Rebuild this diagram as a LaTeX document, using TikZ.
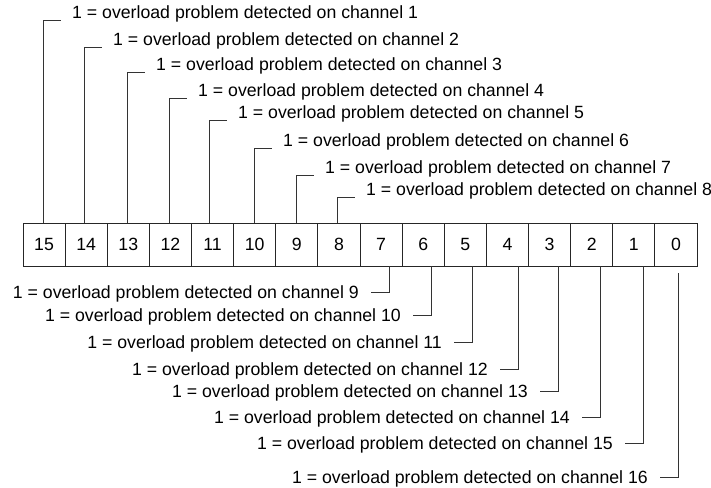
\documentclass[tikz,border=0pt]{standalone}
\usepackage{fontspec}
\setmainfont{Liberation Sans}
\begin{document}
\begin{tikzpicture}[x=1pt,y=-1pt,
  lbl/.style={inner sep=0pt, font=\fontsize{17.7}{20}\selectfont},
  bitbox/.style={draw=black!85, line width=0.8pt, minimum width=42.125pt, minimum height=43pt, inner sep=0pt, font=\fontsize{17.7}{20}\selectfont},
  lead/.style={draw=black!80, line width=0.8pt}]
\useasboundingbox (0,0) rectangle (711,487);
\foreach \i in {0,...,15}{
  \pgfmathtruncatemacro\bit{15-\i}
  \node[bitbox] (b\bit) at ({23+42.125*(\i+0.5)},244.5) {\bit};
}
% top leaders: bit / line x / stub y / channel
\foreach \bit/\lx/\sy/\ch in {15/43/20/1, 14/84/47/2, 13/127/72/3, 12/169/98/4, 11/209/120/5, 10/254/148/6, 9/296/175/7, 8/337/197/8}{
  \coordinate (c\ch) at (\lx,\sy);
  \coordinate (e\ch) at (\lx+18,\sy);
  \node[lbl, anchor=base west] (t\ch) at (\lx+29,\sy-1.5) {1 = overload problem detected on channel \ch};
  \draw[lead] (b\bit.north -| c\ch) -- (c\ch) -- (e\ch);
}
% bottom leaders
\foreach \bit/\lx/\sy/\ch in {7/389/292/9, 6/431/315/10, 5/472/342/11, 4/518/369/12, 3/558/391/13, 2/600/417/14, 1/643/443/15}{
  \coordinate (c\ch) at (\lx,\sy);
  \coordinate (e\ch) at (\lx-18,\sy);
  \node[lbl, anchor=base east] (t\ch) at (\lx-30,\sy+6.3) {1 = overload problem detected on channel \ch};
  \draw[lead] (b\bit.south -| c\ch) -- (c\ch) -- (e\ch);
}
\coordinate (c16) at (678,477);
\coordinate (e16) at (660,477);
\node[lbl, anchor=base east] (t16) at (648,483.3) {1 = overload problem detected on channel 16};
\draw[lead] ([yshift=-7pt]b0.south -| c16) -- (c16) -- (e16);
\end{tikzpicture}
\end{document}
